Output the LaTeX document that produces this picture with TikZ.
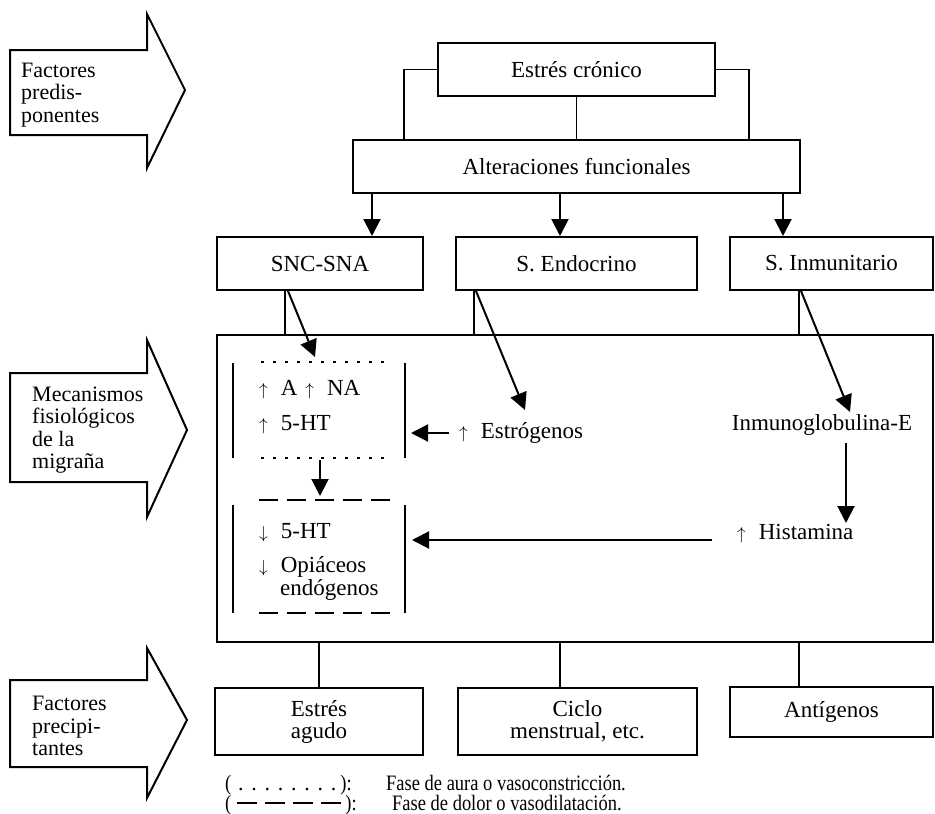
\documentclass[tikz,border=0pt]{standalone}
\usepackage{fontspec}
\usepackage{graphicx}
\setmainfont{Liberation Serif}
\usetikzlibrary{arrows.meta}
\newcommand\upar{{\fontsize{16}{16}\selectfont$\uparrow$}}
\newcommand\dnar{{\fontsize{16}{16}\selectfont$\downarrow$}}
\newcommand\cond[1]{\scalebox{0.84}[1]{#1}}
\newcommand\legdash{\raisebox{6pt}{\rule{20pt}{1.8pt}}}
\begin{document}
\begin{tikzpicture}[x=1pt,y=-1pt,
  txt/.style={font=\fontsize{23}{22}\selectfont, inner sep=0pt},
  box/.style={draw, line width=2pt, font=\fontsize{23}{22}\selectfont, align=center, inner sep=0pt},
  bigbox/.style={draw, line width=2pt, inner sep=0pt},
  conn/.style={line width=1.6pt},
  arr/.style={line width=2pt, -{Triangle[length=17pt,width=17pt]}},
  bigarrow/.style={draw, line width=2pt, line join=miter},
  lbl/.style={font=\fontsize{22}{22.5}\selectfont, align=left, inner sep=0pt, anchor=west},
  legend/.style={font=\fontsize{22}{22}\selectfont, inner sep=0pt, anchor=base west},
  aura/.style={line width=2.5pt, dash pattern=on 2.5pt off 9.5pt},
  dolor/.style={line width=1.8pt, dash pattern=on 19pt off 9pt},
  side/.style={line width=2.4pt}
]
\useasboundingbox (0,0) rectangle (935,814);

% big side arrows
\draw[bigarrow] (10,50) -- (147,50) -- (147,14) -- (185,90) -- (147,168) -- (147,135) -- (10,135) -- cycle;
\node[lbl] (fp) at (21,95) {Factores\\predis-\\ponentes};
\draw[bigarrow] (10,373) -- (147,373) -- (147,340) -- (187,430) -- (147,517) -- (147,482) -- (10,482) -- cycle;
\node[lbl] (mf) at (32,430) {Mecanismos\\fisiológicos\\de la\\migraña};
\draw[bigarrow] (10,680) -- (147,680) -- (147,648) -- (187,720) -- (147,798) -- (147,767) -- (10,767) -- cycle;
\node[lbl] (fpr) at (32,726) {Factores\\precipi-\\tantes};

% boxes
\node[box, minimum width=277pt, minimum height=53pt] (ec) at (576.5,69.5) {Estrés crónico};
\node[box, minimum width=447pt, minimum height=53pt] (alt) at (576.5,166.5) {Alteraciones funcionales};
\node[box, minimum width=206pt, minimum height=53pt] (snc) at (320,263.5) {SNC-SNA};
\node[box, minimum width=241pt, minimum height=53pt] (end) at (576.5,263.5) {S. Endocrino};
\node[box, minimum width=203pt, minimum height=53pt] (inm) at (831.5,263.5) {S. Inmunitario};
\node[bigbox, minimum width=716pt, minimum height=307pt] (big) at (575,488.5) {};
\node[box, minimum width=208pt, minimum height=67pt] (agu) at (319,721.5) {Estrés\\agudo};
\node[box, minimum width=239pt, minimum height=67pt] (cic) at (577.5,721.5) {Ciclo\\menstrual, etc.};
\node[box, minimum width=203pt, minimum height=50pt] (ant) at (831.5,712) {Antígenos};

% top connectors
\draw[conn] (ec.west) -| ([xshift=52pt]alt.north west);
\draw[conn] (ec.east) -| ([xshift=-52pt]alt.north east);
\draw[conn] (ec.south) -- (alt.north);
\coordinate (a1) at ([xshift=20pt]alt.south west);
\coordinate (a2) at ([xshift=-16.5pt]alt.south);
\coordinate (a3) at ([xshift=-18pt]alt.south east);
\draw[arr] (a1) -- (a1 |- snc.north);
\draw[arr] (a2) -- (a2 |- end.north);
\draw[arr] (a3) -- (a3 |- inm.north);

% to big box
\coordinate (b1) at ([xshift=-35pt]snc.south);
\coordinate (b2) at ([xshift=19pt]end.south west);
\coordinate (b3) at ([xshift=70pt]inm.south west);
\draw[conn] (b1) -- (b1 |- big.north);
\draw[conn] (b2) -- (b2 |- big.north);
\draw[conn] (b3) -- (b3 |- big.north);

% inner texts
\node[txt, anchor=west] (ana) at (259,390) {\upar\hspace{13pt}A\hspace{8pt}\upar\hspace{13pt}NA};
\node[txt, anchor=west] (hta) at (259,425) {\upar\hspace{13pt}5-HT};
\node[txt, anchor=west] (htb) at (259,533) {\dnar\hspace{13pt}5-HT};
\node[txt, anchor=west] (opi) at (259,567) {\dnar\hspace{13pt}Opiáceos};
\node[txt, anchor=west] (endo) at (280,590) {endógenos};
\node[txt, anchor=west] (estr) at (459,433) {\upar\hspace{13pt}Estrógenos};
\node[txt] (ige) at (822,425) {Inmunoglobulina-E};
\node[txt, anchor=west] (hist) at (737,534) {\upar\hspace{13pt}Histamina};

% aura frame (dotted)
\draw[side] (233,363) -- (233,458);
\draw[side] (405,363) -- (405,458);
\draw[aura] (261,362) -- (385,362);
\draw[aura] (261,458) -- (385,458);
% dolor frame (dashed)
\draw[side] (233,505) -- (233,613);
\draw[side] (405,505) -- (405,613);
\draw[dolor] (259,500) -- (393,500);
\draw[dolor] (259,613) -- (393,613);

% diagonal arrows
\coordinate (d1) at ([xshift=-32pt]snc.south);
\coordinate (t1) at (315,357);
\draw[arr] (d1) -- (t1);
\coordinate (d2) at ([xshift=21pt]end.south west);
\coordinate (t2) at (525,410);
\draw[arr] (d2) -- (t2);
\coordinate (d3) at ([xshift=72pt]inm.south west);
\coordinate (t3) at (850,412);
\draw[arr] (d3) -- (t3);

% inner arrows
\coordinate (ab) at (320,460);
\coordinate (dt) at (320,496);
\draw[arr] (ab) -- (dt);
\coordinate (es) at (449,433);
\coordinate (et) at (411,433);
\draw[arr] (es) -- (et);
\coordinate (hs) at (712,540);
\coordinate (ht) at (412,540);
\draw[arr] (hs) -- (ht);
\coordinate (is) at (846,443);
\coordinate (it) at (846,523);
\draw[arr] (is) -- (it);

% bottom connectors
\coordinate (c1) at (agu.north);
\coordinate (c2) at ([xshift=-17.5pt]cic.north);
\coordinate (c3) at ([xshift=70pt]ant.north west);
\draw[conn] (c1 |- big.south) -- (c1);
\draw[conn] (c2 |- big.south) -- (c2);
\draw[conn] (c3 |- big.south) -- (c3);

% legend
\node[legend] (l1a) at (225,790) {\cond{(}\hspace{3pt}\makebox[106pt]{\leaders\hbox to 13.25pt{\hss.\hss}\hfill}\cond{):}};
\node[legend] (l1b) at (386,790) {\cond{Fase de aura o vasoconstricción.}};
\node[legend] (l2a) at (225,810) {\cond{(}\hspace{6pt}\legdash\hspace{8pt}\legdash\hspace{8pt}\legdash\hspace{8pt}\legdash\hspace{4pt}\cond{):}};
\node[legend] (l2b) at (392,810) {\cond{Fase de dolor o vasodilatación.}};
\end{tikzpicture}
\end{document}
